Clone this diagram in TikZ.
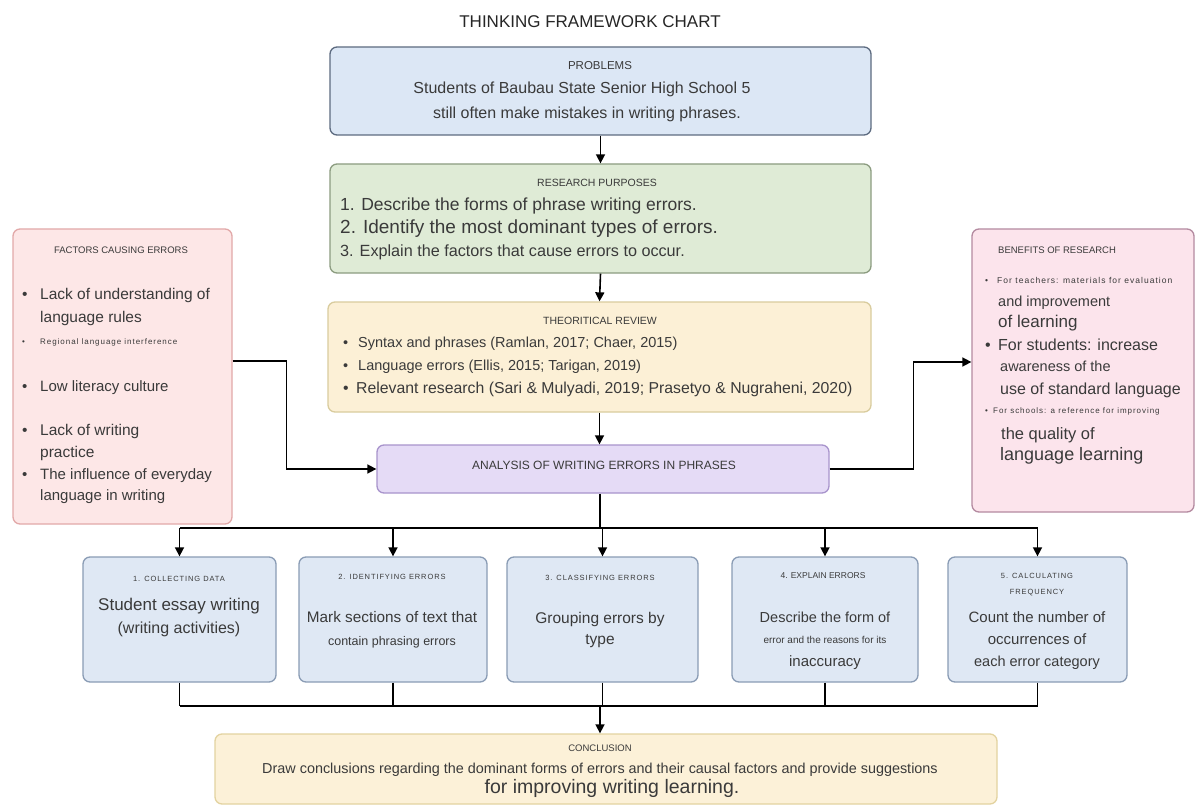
\documentclass[tikz,border=0pt]{standalone}
\usepackage{fontspec}
\usepackage{graphicx}
\setmainfont{Liberation Sans}
\usetikzlibrary{arrows.meta,fit}
\definecolor{txt}{HTML}{3A3A3A}
\definecolor{probF}{HTML}{DCE7F5}\definecolor{probD}{HTML}{5D6B80}
\definecolor{resF}{HTML}{DFEBD6}\definecolor{resD}{HTML}{8C9C80}
\definecolor{thF}{HTML}{FCF0D6}\definecolor{thD}{HTML}{D9CC9E}
\definecolor{anF}{HTML}{E5DBF6}\definecolor{anD}{HTML}{A894CC}
\definecolor{facF}{HTML}{FDE7E7}\definecolor{facD}{HTML}{E2A9A9}
\definecolor{benF}{HTML}{FCE4EC}\definecolor{benD}{HTML}{B48AA0}
\definecolor{stF}{HTML}{DFE8F4}\definecolor{stD}{HTML}{8A9CB5}
\definecolor{conF}{HTML}{FCF1D8}\definecolor{conD}{HTML}{E3D3A0}
\newcommand{\fs}[1]{\fontsize{#1}{#1}\selectfont}
\newcommand{\smalltxt}[1]{\fontsize{#1}{#1}\selectfont\addfontfeatures{LetterSpace=12}}
\newcommand{\bul}[1]{\makebox[#1][l]{•}}
\begin{document}
\begin{tikzpicture}[x=1pt,y=-1pt,
  box/.style={rounded corners=7pt, line width=1.3pt, inner sep=0pt},
  t/.style={inner sep=0pt, text=txt, anchor=mid},
  tl/.style={inner sep=0pt, text=txt, anchor=mid west},
  arr/.style={line width=1.6pt, -{Triangle[length=9pt,width=9pt]}},
  ln/.style={line width=1.6pt}]
\useasboundingbox[fill=white] (0,0) rectangle (1197,805);

% title
\node[t, font={\fs{17}}, text=black!85] (title) at (590,25) {THINKING FRAMEWORK CHART};

% problems
\node[box, fill=probF, draw=probD, fit={(330,47)(871,135)}] (prob) {};
\node[t, font={\fs{11.5}}] (probT) at (600,67) {PROBLEMS};
\node[t, font={\fs{16}}] (prob1) at (582,91) {Students of Baubau State Senior High School 5};
\node[t, font={\fs{16}}] (prob2) at (587,116) {still often make mistakes in writing phrases.};

% research purposes
\node[box, fill=resF, draw=resD, fit={(330,164)(871,273)}] (res) {};
\node[t, font={\fs{10.5}}] (resT) at (597,184) {RESEARCH PURPOSES};
\node[tl, font={\fs{17.5}}] (res1) at (340,208) {1. Describe the forms of phrase writing errors.};
\node[tl, font={\fs{19}}] (res2) at (340,231) {2. Identify the most dominant types of errors.};
\node[tl, font={\fs{16.2}}] (res3) at (340,254) {3. Explain the factors that cause errors to occur.};

% theoretical review
\node[box, fill=thF, draw=thD, fit={(328,302)(871,412)}] (th) {};
\node[t, font={\fs{10.5}}] (thT) at (600,322) {THEORITICAL REVIEW};
\node[tl, font={\fs{14.5}}] (th1) at (343,345) {\bul{15pt}Syntax and phrases (Ramlan, 2017; Chaer, 2015)};
\node[tl, font={\fs{14.5}}] (th2) at (343,368) {\bul{15pt}Language errors (Ellis, 2015; Tarigan, 2019)};
\node[tl, font={\fs{15.8}}] (th3) at (343,391) {\bul{13pt}Relevant research (Sari \& Mulyadi, 2019; Prasetyo \& Nugraheni, 2020)};

% analysis
\node[box, fill=anF, draw=anD, fit={(377,445)(829,493)}] (anal) {};
\node[t, font={\fs{12}}] (analT) at (604,467) {ANALYSIS OF WRITING ERRORS IN PHRASES};

% factors
\node[box, fill=facF, draw=facD, fit={(13,229)(232,524)}] (fac) {};
\node[t, font={\fs{9.5}}] (facT) at (121,251) {FACTORS CAUSING ERRORS};
\node[tl, font={\fs{15.5}}] (f1) at (22,297) {\bul{18pt}Lack of understanding of};
\node[tl, font={\fs{15.5}}] (f2) at (40,320) {language rules};
\node[tl, font={\smalltxt{8}}] (f3) at (22,342) {\bul{18pt}Regional language interference};
\node[tl, font={\fs{15}}] (f4) at (22,389) {\bul{18pt}Low literacy culture};
\node[tl, font={\fs{15.5}}] (f5) at (22,433) {\bul{18pt}Lack of writing};
\node[tl, font={\fs{15.5}}] (f6) at (40,455) {practice};
\node[tl, font={\fs{15}}] (f7) at (22,477) {\bul{18pt}The influence of everyday};
\node[tl, font={\fs{15}}] (f8) at (40,498) {language in writing};

% benefits
\node[box, fill=benF, draw=benD, fit={(972,229)(1194,512)}] (ben) {};
\node[tl, font={\fs{9.5}}] (benT) at (998,251) {BENEFITS OF RESEARCH};
\node[tl, font={\smalltxt{8.5}}] (b1l) at (985,281) {\bul{12pt}For teachers: materials for evaluation};
\node[tl, font={\fs{14.5}}] (b2l) at (998,304) {and improvement};
\node[tl, font={\fs{17}}] (b3l) at (998,325) {of learning};
\node[tl, font={\fs{16}}] (b4l) at (985,348) {\bul{13pt}For students: increase};
\node[tl, font={\fs{14.5}}] (b5l) at (1000,369) {awareness of the};
\node[tl, font={\fs{16}}] (b6l) at (1000,392) {use of standard language};
\node[tl, font={\smalltxt{8}}] (b7l) at (985,411) {\bul{8pt}For schools: a reference for improving};
\node[tl, font={\fs{16.5}}] (b8l) at (1001,437) {the quality of};
\node[tl, font={\fs{18}}] (b9l) at (1000,458) {language learning};

% steps
\node[box, fill=stF, draw=stD, fit={(83,557)(276,682)}] (s1) {};
\node[box, fill=stF, draw=stD, fit={(299,557)(487,682)}] (s2) {};
\node[box, fill=stF, draw=stD, fit={(507,557)(698,682)}] (s3) {};
\node[box, fill=stF, draw=stD, fit={(732,557)(918,682)}] (s4) {};
\node[box, fill=stF, draw=stD, fit={(948,557)(1127,682)}] (s5) {};

\node[t, font={\smalltxt{7.5}}] (s1T) at (179,579) {1. COLLECTING DATA};
\node[t, font={\fs{17}}] (s1a) at (179,608) {Student essay writing};
\node[t, font={\fs{16}}] (s1b) at (179,631) {(writing activities)};

\node[t, font={\smalltxt{7.5}}] (s2T) at (392,577) {2. IDENTIFYING ERRORS};
\node[t, font={\fs{15.3}}] (s2a) at (392,620) {Mark sections of text that};
\node[t, font={\fs{12.5}}] (s2b) at (392,643) {contain phrasing errors};

\node[t, font={\smalltxt{7.5}}] (s3T) at (600,578) {3. CLASSIFYING ERRORS};
\node[t, font={\fs{15.5}}] (s3a) at (600,621) {Grouping errors by};
\node[t, font={\fs{15.5}}] (s3b) at (600,642) {type};

\node[t, font={\fs{8.5}}] (s4T) at (823,576) {4. EXPLAIN ERRORS};
\node[t, font={\fs{14.5}}] (s4a) at (825,620) {Describe the form of};
\node[t, font={\fs{10}}] (s4b) at (825,641) {error and the reasons for its};
\node[t, font={\fs{15}}] (s4c) at (825,664) {inaccuracy};

\node[t, font={\smalltxt{7.5}}] (s5T) at (1037,576) {5. CALCULATING};
\node[t, font={\smalltxt{7.5}}] (s5U) at (1037,592) {FREQUENCY};
\node[t, font={\fs{15}}] (s5a) at (1037,620) {Count the number of};
\node[t, font={\fs{15}}] (s5b) at (1037,642) {occurrences of};
\node[t, font={\fs{14.5}}] (s5c) at (1037,664) {each error category};

% conclusion
\node[box, fill=conF, draw=conD, fit={(215,734)(997,804)}] (con) {};
\node[t, font={\fs{9.5}}] (conT) at (600,749) {CONCLUSION};
\node[t, font={\fs{14.4}}] (con1) at (600,771) {Draw conclusions regarding the dominant forms of errors and their causal factors and provide suggestions};
\node[t, font={\fs{19.5}}] (con2) at (612,791) {for improving writing learning.};

% connectors
\draw[arr] (prob.south) -- (res.north);
\draw[arr] (res.south) -- (th.north);
\draw[arr] (th.south) -- (th.south |- anal.north);
\draw[arr] ([yshift=15.5pt]fac.east) -- ++(54,0) |- (anal.west);
\draw[arr] (anal.east) -- ++(84,0) |- ([yshift=8.5pt]ben.west);

\coordinate (split) at (600,528);
\draw[ln] (split |- anal.south) -- (split);
\draw[ln] (s1.north |- split) -- (s5.north |- split);
\foreach \s in {s1,s2,s3,s4,s5}{
  \draw[arr] (\s.north |- split) -- (\s.north);
}
\coordinate (join) at (600,706);
\foreach \s in {s1,s2,s3,s4,s5}{
  \draw[ln] (\s.south) -- (\s.south |- join);
}
\draw[ln] (s1.south |- join) -- (s5.south |- join);
\draw[arr] (join) -- (join |- con.north);
\end{tikzpicture}
\end{document}
